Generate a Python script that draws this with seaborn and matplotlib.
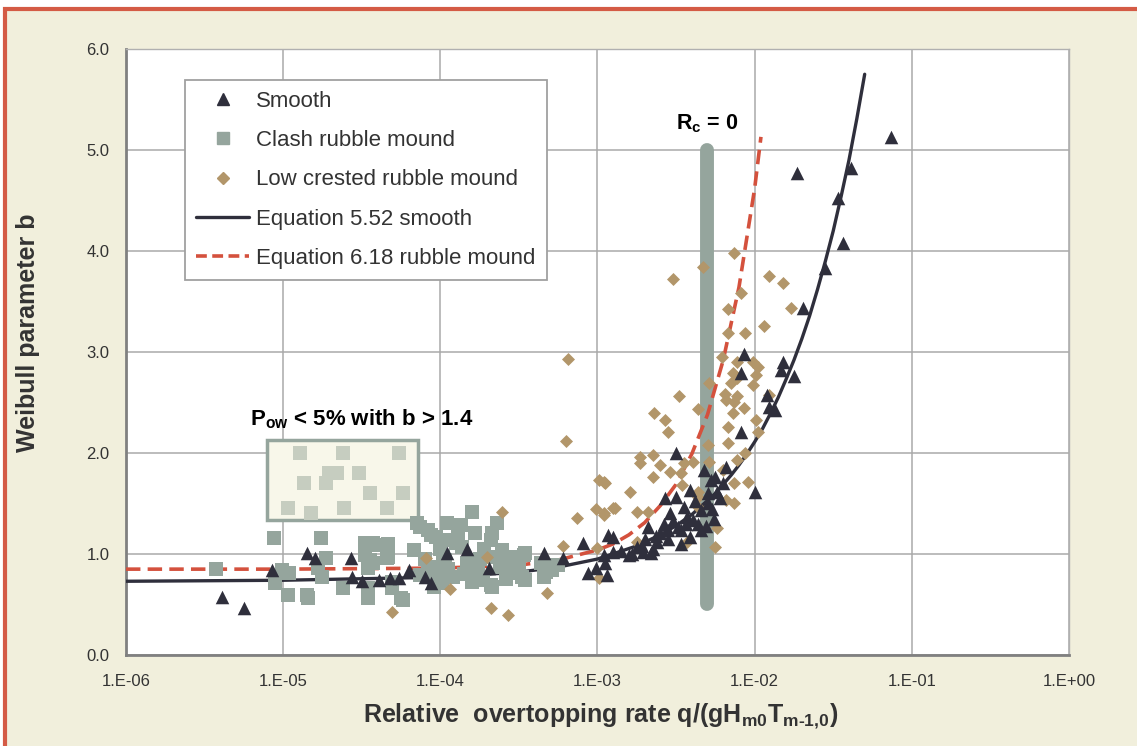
import numpy as np
import pandas as pd
import matplotlib
matplotlib.use('Agg')
import matplotlib.pyplot as plt
import seaborn as sns
from matplotlib.patches import Rectangle
from matplotlib.lines import Line2D
from matplotlib.ticker import MultipleLocator, FixedLocator, LogLocator, FuncFormatter, NullFormatter

# values: log10 of q/(g Hm0 Tm-1,0) and Weibull b
smooth_logq = [-5.39, -5.25, -5.07, -4.85, -4.80, -4.57, -4.56, -4.50, -4.39, -4.32, -4.26, -4.20,
               -4.10, -4.06, -3.96, -3.83, -3.69, -3.34, -3.22, -3.09, -3.06, -3.01,
               -2.96, -2.94, -2.93, -2.90, -2.95, -2.90, -2.80, -2.75, -2.71, -2.68, -2.66, -2.60,
               -2.57, -2.55, -2.54, -2.50, -2.50, -2.49, -2.47, -2.45, -2.43, -2.41, -2.39, -2.34,
               -2.34, -2.32, -2.30, -2.28, -2.25, -2.24, -2.18, -2.09, -2.00, -2.41, -2.47, -2.55,
               -2.62, -2.65, -2.72, -2.78, -2.85,
               -2.30, -2.27, -2.26, -2.31, -2.36, -2.38, -2.44, -2.52, -2.58, -2.63, -2.70, -2.22, -2.20,
               -2.07, -2.09, -1.82, -1.83, -1.75, -1.69, -1.92, -1.91, -1.87, -1.73, -1.13, -1.39,
               -1.47, -1.44, -1.55]
smooth_b = [0.57, 0.47, 0.84, 1.01, 0.96, 0.96, 0.77, 0.73, 0.74, 0.76, 0.76, 0.84,
            0.77, 0.71, 1.01, 1.05, 0.86, 1.01, 0.96, 1.11, 0.81, 0.86,
            0.99, 0.79, 1.19, 1.02, 0.91, 1.17, 0.99, 1.07, 1.02, 1.27, 1.01, 1.21,
            1.55, 1.24, 1.41, 2.00, 1.56, 1.27, 1.24, 1.47, 1.37, 1.63, 1.34, 1.24,
            1.44, 1.83, 1.50, 1.73, 1.76, 1.61, 1.86, 2.21, 1.61, 1.17, 1.10, 1.15,
            1.12, 1.05, 1.08, 1.00, 1.03,
            1.60, 1.45, 1.35, 1.28, 1.30, 1.52, 1.30, 1.33, 1.30, 1.18, 1.15, 1.55, 1.70,
            2.98, 2.79, 2.90, 2.82, 2.76, 3.44, 2.57, 2.46, 2.43, 4.77, 5.13, 4.82,
            4.52, 4.08, 3.83]

clash_logq = [-5.43, -5.06, -5.05, -5.01, -4.97, -4.96, -4.85, -4.84, -4.78, -4.76, -4.75, -4.73,
              -4.62, -4.48, -4.48, -4.48, -4.46, -4.46, -4.46, -4.45, -4.43, -4.43, -4.41, -4.34,
              -4.33, -4.33, -4.31, -4.31, -4.25, -4.24,
              -4.17, -4.15, -4.13, -4.13, -4.08, -4.06, -4.05, -4.04, -4.03, -4.02, -4.00, -3.99,
              -3.98, -3.97, -3.96, -3.94, -3.92, -3.90, -3.89, -3.87, -3.86, -3.83, -3.80, -3.80,
              -3.78, -3.76, -3.73, -3.68, -3.68, -3.68,
              -3.67, -3.67, -3.64, -3.62, -3.61, -3.57, -3.55, -3.54, -3.50, -3.48, -3.47, -3.46,
              -3.46, -3.36, -3.34, -3.33, -3.29, -3.27, -3.25,
              -4.10, -4.08, -4.00, -3.95, -3.85, -3.75, -3.72, -3.60, -3.58]
clash_b = [0.85, 1.16, 0.71, 0.84, 0.59, 0.81, 0.59, 0.56, 0.86, 1.16, 0.77, 0.96,
           0.66, 1.06, 1.11, 0.99, 0.66, 0.86, 0.56, 0.94, 0.91, 1.11, 1.09, 0.96,
           1.10, 0.97, 0.72, 0.66, 0.56, 0.54,
           1.04, 1.31, 1.27, 0.79, 1.24, 1.19, 0.77, 0.67, 1.17, 0.87, 0.77, 0.71,
           0.97, 0.94, 1.31, 1.14, 0.77, 1.11, 1.21, 1.29, 1.07, 0.91, 1.42, 0.72,
           1.21, 0.83, 0.74, 1.14, 0.97, 0.69,
           1.21, 0.67, 1.31, 0.87, 1.04, 0.81, 0.91, 0.97, 0.86, 0.77, 0.99, 1.01,
           0.74, 0.91, 0.77, 0.82, 0.84, 0.89, 0.89,
           0.95, 0.85, 1.05, 0.85, 0.80, 0.95, 1.05, 0.95, 0.75]

# clash points inside the highlighted box (drawn faded)
boxed_logq = [-4.89, -4.62, -4.26, -4.71, -4.66, -4.52, -4.87, -4.73, -4.45, -4.24, -4.97, -4.82, -4.61, -4.34]
boxed_b = [2.00, 2.00, 2.00, 1.80, 1.80, 1.80, 1.70, 1.70, 1.60, 1.60, 1.46, 1.41, 1.46, 1.46]

lowcrest_logq = [-4.31, -4.09, -3.94, -3.70, -3.68, -3.57, -3.32, -3.22, -3.61, -3.13, -3.01, -2.96,
                 -2.90, -2.99, -2.95, -3.00, -2.99,
                 -2.57, -2.55, -2.17, -1.98, -2.30, -2.17, -2.73, -2.65, -2.73, -2.60, -2.45, -2.39,
                 -2.29, -2.54, -2.47, -2.65, -2.20, -2.11, -2.06, -2.13, -2.04, -2.46, -2.79, -2.36,
                 -2.96, -2.89, -2.96, -2.75, -2.68, -2.36, -2.18, -2.13, -2.24, -2.75, -2.43, -2.25,
                 -2.13, -2.33, -2.52, -1.91, -1.82, -2.09, -2.17, -1.77, -2.17, -2.06, -1.94, -2.21,
                 -2.11, -2.01, -1.98, -2.14, -1.99, -2.11, -2.15, -2.29, -2.01, -2.48, -2.19, -2.11,
                 -2.18, -2.64, -2.36, -2.13, -2.07, -2.14, -1.99, -1.91, -3.19, -3.20, -2.36]
lowcrest_b = [0.43, 0.96, 0.65, 0.97, 0.47, 0.40, 0.61, 1.08, 1.42, 1.36, 1.45, 1.39,
              1.46, 1.73, 1.70, 1.06, 0.76,
              2.33, 2.21, 2.26, 2.21, 2.08, 2.10, 1.96, 1.98, 1.90, 1.88, 1.90, 1.91,
              1.91, 1.81, 1.80, 1.76, 1.83, 1.93, 2.00, 1.70, 1.71, 1.68, 1.61, 1.61,
              1.71, 1.46, 1.41, 1.42, 1.42, 1.47, 1.53, 1.50, 1.26, 1.12, 1.12, 1.07,
              3.98, 3.84, 3.72, 3.75, 3.68, 3.58, 3.43, 3.44, 3.19, 3.19, 3.26, 2.95,
              2.90, 2.90, 2.85, 2.79, 2.77, 2.74, 2.69, 2.69, 2.67, 2.56, 2.58, 2.56,
              2.52, 2.40, 2.44, 2.50, 2.45, 2.40, 2.33, 2.57, 2.93, 2.12, 1.56]

# design curves, read at a set of points
eq552_logq = [-6.0, -5.0, -4.0, -3.5, -3.25, -3.0, -2.75, -2.6, -2.5, -2.4, -2.25, -2.15, -2.1, -2.05,
              -2.0, -1.95, -1.9, -1.85, -1.8, -1.75, -1.7, -1.65, -1.6, -1.55, -1.5, -1.45, -1.4,
              -1.35, -1.3]
eq552_b = [0.73, 0.74, 0.77, 0.82, 0.87, 0.95, 1.08, 1.19, 1.28, 1.39, 1.60, 1.78, 1.88, 1.99,
           2.11, 2.24, 2.39, 2.55, 2.73, 2.92, 3.13, 3.36, 3.62, 3.90, 4.20, 4.54, 4.90,
           5.31, 5.75]
eq618_logq = [-6.0, -5.0, -4.0, -3.5, -3.25, -3.0, -2.9, -2.8, -2.7, -2.6, -2.5, -2.4, -2.3, -2.2,
              -2.1, -2.0, -1.96]
eq618_b = [0.85, 0.85, 0.86, 0.89, 0.94, 1.04, 1.10, 1.19, 1.31, 1.48, 1.69, 1.99, 2.38, 2.92,
           3.64, 4.62, 5.13]

rc0_q = 5e-3
rc0_b = [0.5, 5.0]

x_decades = [-6, -5, -4, -3, -2, -1, 0]
legend_labels = ['Smooth', 'Clash rubble mound', 'Low crested rubble mound',
                 'Equation 5.52 smooth', 'Equation 6.18 rubble mound']

c_smooth = '#2f2f3c'
c_clash = '#95a59d'
c_low = '#b2966a'
c_red = '#d4513d'

sns.set_style('white')
plt.rcParams['font.family'] = ['Liberation Sans', 'DejaVu Sans']
plt.rcParams['mathtext.fontset'] = 'custom'
plt.rcParams['mathtext.rm'] = 'Liberation Sans:bold'
plt.rcParams['mathtext.it'] = 'Liberation Sans:bold'
plt.rcParams['mathtext.bf'] = 'Liberation Sans:bold'

fig = plt.figure(figsize=(11.37, 7.46), dpi=100, facecolor='white')
# cream panel with red border on top/left
fig.add_artist(Rectangle((5 / 1137, -0.05), 1.1, 1.0373, transform=fig.transFigure,
                         facecolor='#f1efdc', edgecolor='#d45b45', lw=3, zorder=-5))
ax = fig.add_axes([0.1108, 0.122, 0.8294, 0.8123])
ax.set_facecolor('white')
ax.set_xscale('log')

q = lambda v: 10.0 ** np.asarray(v, dtype=float)

ax.plot([rc0_q, rc0_q], rc0_b, color=c_clash, lw=10, solid_capstyle='round', zorder=2)

sns.lineplot(x=q(eq552_logq), y=eq552_b, ax=ax, color=c_smooth, lw=2.4, sort=False,
             estimator=None, legend=False, zorder=3)
sns.lineplot(x=q(eq618_logq), y=eq618_b, ax=ax, color=c_red, lw=2.6, sort=False,
             estimator=None, legend=False, linestyle=(0, (4, 2)), zorder=3)

# highlighted box
ax.add_patch(Rectangle((10 ** -5.10, 1.34), 10 ** -4.14 - 10 ** -5.10, 0.79,
                       facecolor='#f8f7ea', edgecolor=c_clash, lw=2.5, zorder=3))
sns.scatterplot(x=q(boxed_logq), y=boxed_b, ax=ax, marker='s', s=95, color='#c6cdc0',
                linewidth=0, legend=False, zorder=4)

sns.scatterplot(x=q(clash_logq), y=clash_b, ax=ax, marker='s', s=95, color=c_clash,
                linewidth=0, legend=False, zorder=4)
sns.scatterplot(x=q(lowcrest_logq), y=lowcrest_b, ax=ax, marker='D', s=44, color=c_low,
                linewidth=0, legend=False, zorder=5)
sns.scatterplot(x=q(smooth_logq), y=smooth_b, ax=ax, marker='^', s=95, color=c_smooth,
                linewidth=0, legend=False, zorder=6)

ax.text(10 ** -5.21, 2.33, r'P$_\mathrm{ow}$ < 5% with b > 1.4', fontsize=16, fontweight='bold',
        ha='left', va='center', color='black', zorder=7)
ax.text(rc0_q, 5.26, r'R$_\mathrm{c}$ = 0', fontsize=15.5, fontweight='bold',
        ha='center', va='center', color='black', zorder=7)

ax.set_xlim(1e-6, 1)
ax.set_ylim(0, 6)
ax.xaxis.set_major_locator(FixedLocator(q(x_decades)))
ax.xaxis.set_minor_locator(LogLocator(base=10, subs=np.arange(2, 10), numticks=100))
ax.xaxis.set_major_formatter(FuncFormatter(lambda v, p: '1.E{:+03d}'.format(int(round(np.log10(v))))))
ax.xaxis.set_minor_formatter(NullFormatter())
ax.yaxis.set_major_locator(MultipleLocator(1.0))
ax.yaxis.set_minor_locator(MultipleLocator(0.2))
ax.yaxis.set_major_formatter(FuncFormatter(lambda v, p: '{:.1f}'.format(v)))

ax.grid(True, which='major', color='#a9a9a9', lw=1.1)
ax.set_axisbelow(True)
ax.tick_params(which='both', direction='in', colors='#8a8a8a', labelcolor='#333333', labelsize=12)
ax.tick_params(which='major', length=0)
ax.tick_params(axis='y', which='major', pad=12)
ax.tick_params(axis='x', which='major', pad=14)
ax.tick_params(which='minor', length=5, width=1)
for side in ['left', 'bottom']:
    ax.spines[side].set_color('#808080')
    ax.spines[side].set_linewidth(2)
for side in ['top', 'right']:
    ax.spines[side].set_color('#b0b0b0')
    ax.spines[side].set_linewidth(1)

fig.text(601 / 1137, 1 - 716 / 746,
         r'Relative  overtopping rate q/(gH$_\mathrm{m0}$T$_\mathrm{m\text{-}1{,}0}$)',
         fontsize=18, fontweight='bold', color='#333333', ha='center', va='center')
fig.text(28 / 1137, 1 - 333 / 746, 'Weibull parameter b', fontsize=18, fontweight='bold',
         color='#333333', rotation=90, ha='center', va='center')

handles = [
    Line2D([], [], ls='none', marker='^', ms=9, color=c_smooth),
    Line2D([], [], ls='none', marker='s', ms=8, color=c_clash),
    Line2D([], [], ls='none', marker='D', ms=6, color=c_low),
    Line2D([], [], color=c_smooth, lw=2.4),
    Line2D([], [], color=c_red, lw=2.6, ls=(0, (3, 1.5))),
]
leg = ax.legend(handles, legend_labels, loc='upper left', bbox_to_anchor=(0.0626, 0.949),
                borderaxespad=0, fontsize=16, frameon=True, fancybox=False, framealpha=1,
                edgecolor='#a0a0a0', handlelength=2.4, handletextpad=0.3, labelspacing=0.82,
                borderpad=0.5)
leg.get_frame().set_linewidth(1.3)
for t in leg.get_texts():
    t.set_color('#333333')
leg.set_zorder(8)

fig.savefig('out.png', dpi=100)
